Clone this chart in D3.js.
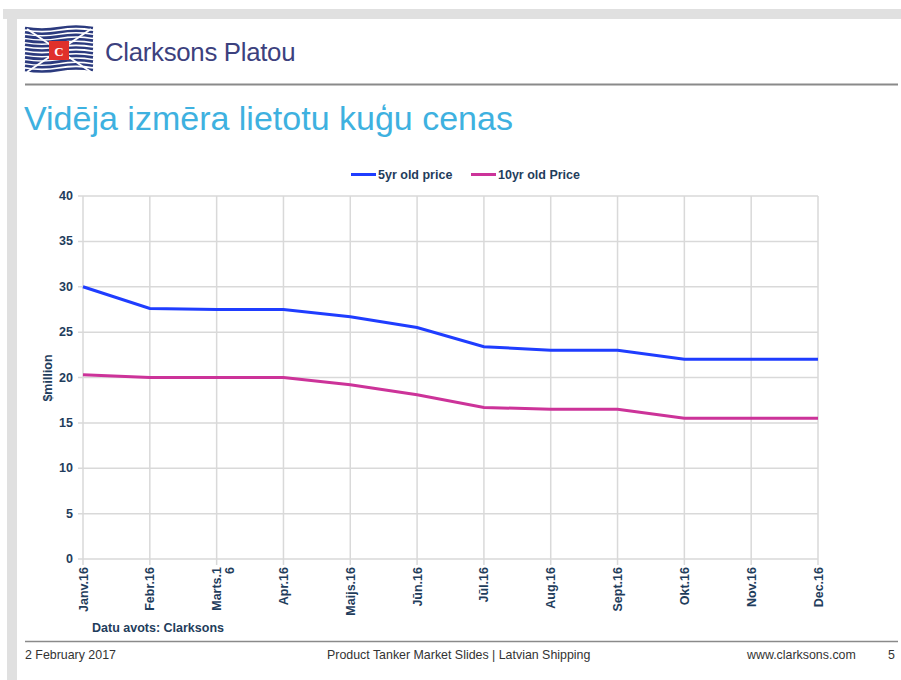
<!DOCTYPE html>
<html>
<head>
<meta charset="utf-8">
<script src="https://cdn.jsdelivr.net/npm/d3@7"></script>
<style>
  body { margin: 0; background: #fff; }
  svg { display: block; font-family: "Liberation Sans", Arial, sans-serif; }
</style>
</head>
<body>
<script>
// chart data
const months = ["Janv.16", "Febr.16", "Marts.1|6", "Apr.16", "Maijs.16", "Jūn.16",
                "Jūl.16", "Aug.16", "Sept.16", "Okt.16", "Nov.16", "Dec.16"];
const price5yr = [30, 27.6, 27.5, 27.5, 26.7, 25.5, 23.4, 23.0, 23.0, 22.0, 22.0, 22.0];
const price10yr = [20.3, 20, 20, 20, 19.2, 18.1, 16.7, 16.5, 16.5, 15.5, 15.5, 15.5];
const yTicks = [0, 5, 10, 15, 20, 25, 30, 35, 40];
const seriesNames = ["5yr old price", "10yr old Price"];

const W = 901, H = 680;
const navy = "#1f3d5c";
const labelSize = 12.5;

const svg = d3.select("body").append("svg")
  .attr("width", W)
  .attr("height", H);

// slide frame
svg.append("rect").attr("x", 3).attr("y", 9).attr("width", W - 3).attr("height", 10).attr("fill", "#e0e0e0");
svg.append("rect").attr("x", 7).attr("y", 9).attr("width", 10).attr("height", H - 9).attr("fill", "#e0e0e0");

// logo
const logo = svg.append("g").attr("transform", "translate(25,28)");
const waves = d3.range(0, 46, 4.2);
waves.forEach(function(wy) {
  logo.append("path")
    .attr("d", `M0,${wy} Q17,${wy + 3} 34,${wy} T68,${wy}`)
    .attr("fill", "none")
    .attr("stroke", "#2b3a7e")
    .attr("stroke-width", 2.6);
});
logo.append("line").attr("x1", 2).attr("y1", 1).attr("x2", 66).attr("y2", 44).attr("stroke", "#fff").attr("stroke-width", 2);
logo.append("line").attr("x1", 66).attr("y1", 1).attr("x2", 2).attr("y2", 44).attr("stroke", "#fff").attr("stroke-width", 2);
logo.append("rect").attr("x", 24).attr("y", 13).attr("width", 20).attr("height", 19).attr("fill", "#e0312b");
logo.append("text").attr("x", 34).attr("y", 27.5).attr("text-anchor", "middle")
  .attr("font-family", "Liberation Serif, serif").attr("font-weight", "bold")
  .attr("font-size", 13).attr("fill", "#fff").text("C");

svg.append("text").attr("x", 105).attr("y", 61)
  .attr("font-size", 25.8).attr("fill", "#3c417e").attr("letter-spacing", -0.3)
  .text("Clarksons Platou");

svg.append("line").attr("x1", 25).attr("x2", 898).attr("y1", 84.5).attr("y2", 84.5)
  .attr("stroke", "#8a8a8a").attr("stroke-width", 2);

// title
svg.append("text").attr("x", 24).attr("y", 130)
  .attr("font-size", 34).attr("fill", "#3eb1e0")
  .text("Vidēja izmēra lietotu kuģu cenas");

// scales
const x = d3.scalePoint().domain(months).range([83, 818]);
const y = d3.scaleLinear().domain([0, 40]).range([559, 196]);

// grid
svg.append("g").selectAll("line").data(yTicks).join("line")
  .attr("x1", 78).attr("x2", 818)
  .attr("y1", d => y(d)).attr("y2", d => y(d))
  .attr("stroke", "#d9d9d9").attr("stroke-width", 1.5);
svg.append("g").selectAll("line").data(months).join("line")
  .attr("x1", d => x(d)).attr("x2", d => x(d))
  .attr("y1", y(40)).attr("y2", y(0) + 6)
  .attr("stroke", "#d9d9d9").attr("stroke-width", 1.5);

// y axis labels
svg.append("g").selectAll("text").data(yTicks).join("text")
  .attr("x", 73).attr("y", d => y(d) + 4)
  .attr("text-anchor", "end")
  .attr("font-size", labelSize).attr("font-weight", "bold").attr("fill", navy)
  .text(d => d);

svg.append("text")
  .attr("transform", "translate(52,378) rotate(-90)")
  .attr("text-anchor", "middle")
  .attr("font-size", labelSize).attr("font-weight", "bold").attr("fill", navy)
  .text("$million");

// x axis labels
const xl = svg.append("g").selectAll("text").data(months).join("text")
  .attr("transform", d => `translate(${x(d) + 4.5},567) rotate(-90)`)
  .attr("text-anchor", "end")
  .attr("font-size", labelSize).attr("font-weight", "bold").attr("fill", navy);
xl.each(function(d) {
  const parts = d.split("|");
  const t = d3.select(this);
  parts.forEach(function(p, i) {
    t.append("tspan").attr("x", 0).attr("dy", i === 0 ? 0 : 13).text(p);
  });
});

// lines
const line = d3.line().x((d, i) => x(months[i])).y(d => y(d));
svg.append("path").datum(price5yr).attr("d", line)
  .attr("fill", "none").attr("stroke", "#1f3dff").attr("stroke-width", 3);
svg.append("path").datum(price10yr).attr("d", line)
  .attr("fill", "none").attr("stroke", "#cc3399").attr("stroke-width", 3);

// legend
const legendColors = ["#1f3dff", "#cc3399"];
const legendX = [351, 471];
seriesNames.forEach(function(name, i) {
  svg.append("line").attr("x1", legendX[i]).attr("x2", legendX[i] + 25)
    .attr("y1", 174.5).attr("y2", 174.5)
    .attr("stroke", legendColors[i]).attr("stroke-width", 3);
  svg.append("text").attr("x", legendX[i] + 27).attr("y", 179)
    .attr("font-size", labelSize).attr("font-weight", "bold").attr("fill", navy)
    .text(name);
});

// source
svg.append("text").attr("x", 92).attr("y", 632)
  .attr("font-size", labelSize).attr("font-weight", "bold").attr("fill", navy)
  .text("Datu avots: Clarksons");

// footer
svg.append("line").attr("x1", 25).attr("x2", 898).attr("y1", 641.5).attr("y2", 641.5)
  .attr("stroke", "#8a8a8a").attr("stroke-width", 1.5);
const foot = svg.append("g").attr("font-size", 12.4).attr("fill", "#333");
foot.append("text").attr("x", 25).attr("y", 659).text("2 February 2017");
foot.append("text").attr("x", 327).attr("y", 659).text("Product Tanker Market Slides | Latvian Shipping");
foot.append("text").attr("x", 747).attr("y", 659).text("www.clarksons.com");
foot.append("text").attr("x", 888).attr("y", 659).text("5");
</script>
</body>
</html>
